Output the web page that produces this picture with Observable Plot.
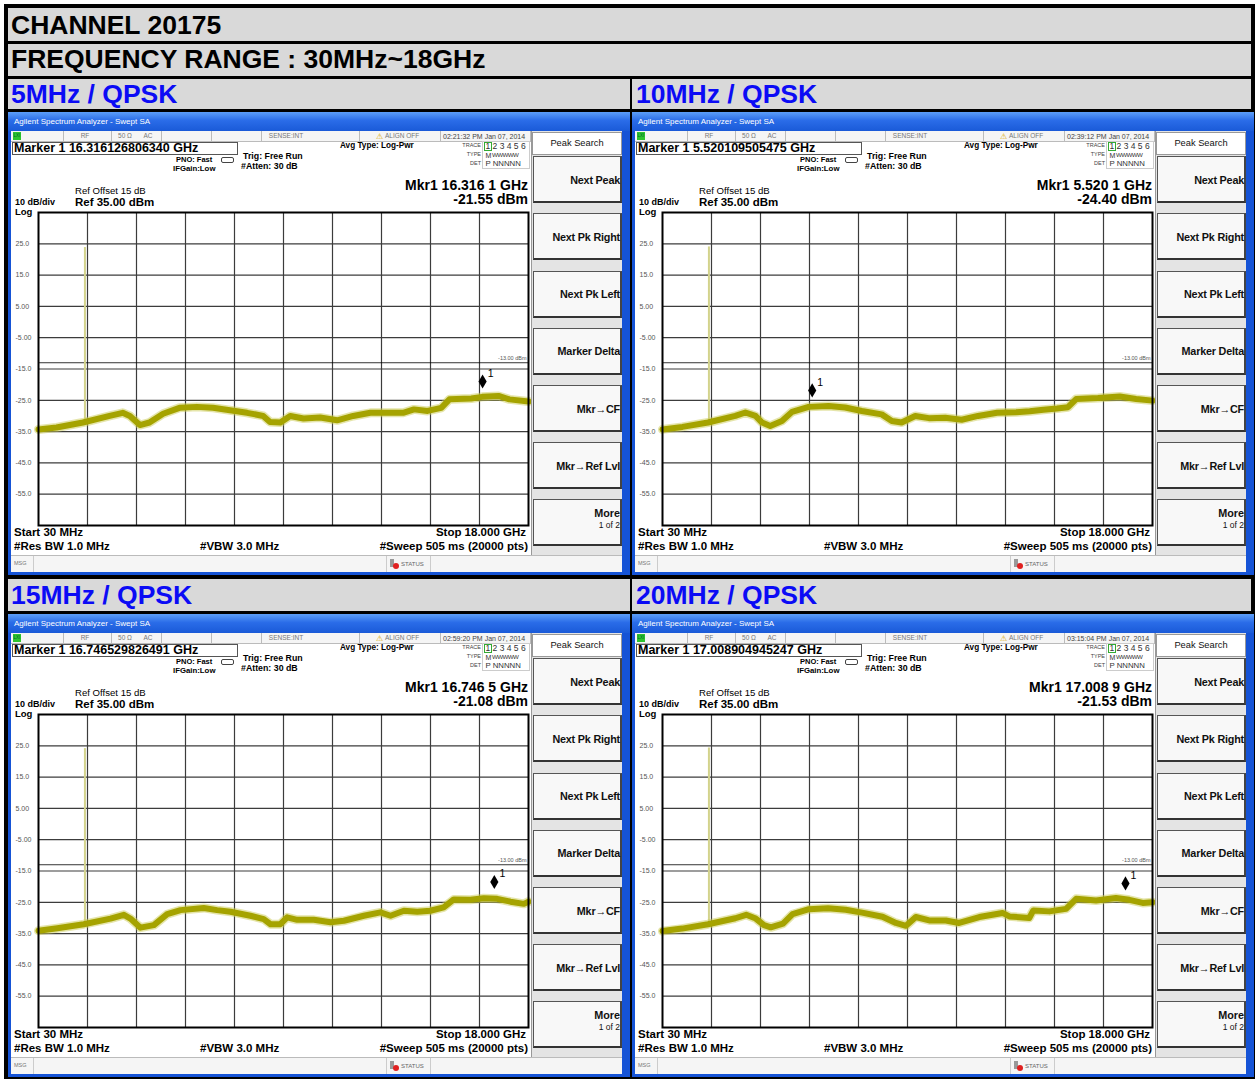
<!DOCTYPE html>
<html><head><meta charset="utf-8">
<script src="https://cdn.jsdelivr.net/npm/d3@7"></script>
<script src="https://cdn.jsdelivr.net/npm/@observablehq/plot@0.6"></script>
<style>
body{margin:0;background:#fff;font-family:"Liberation Sans",Arial,Helvetica,sans-serif;}
#root{position:relative;width:1255px;height:1079px;overflow:hidden;background:#fff;}
.a{position:absolute;white-space:nowrap;line-height:1;box-sizing:border-box;}
</style></head><body><div id="root"></div>
<script>
// ---------- data ----------
const channelTitle = "CHANNEL 20175";
const rangeTitle = "FREQUENCY RANGE : 30MHz~18GHz";
const panelTitles = ["5MHz / QPSK", "10MHz / QPSK", "15MHz / QPSK", "20MHz / QPSK"];
const timestamps = ["02:21:32 PM Jan 07, 2014", "02:39:12 PM Jan 07, 2014", "02:59:20 PM Jan 07, 2014", "03:15:04 PM Jan 07, 2014"];
const markerReadouts = ["Marker 1 16.316126806340 GHz", "Marker 1 5.520109505475 GHz", "Marker 1 16.746529826491 GHz", "Marker 1 17.008904945247 GHz"];
const mkrFreqLabels = ["Mkr1 16.316 1 GHz", "Mkr1 5.520 1 GHz", "Mkr1 16.746 5 GHz", "Mkr1 17.008 9 GHz"];
const mkrLevelLabels = ["-21.55 dBm", "-24.40 dBm", "-21.08 dBm", "-21.53 dBm"];
const markerFreqs = [16.316126806340, 5.520109505475, 16.746529826491, 17.008904945247];
const markerLevels = [-21.55, -24.40, -21.08, -21.53];
const carrierFreq = 1.7325;
const carrierTops = [23.8, 24.0, 24.1, 24.3];
const carrierBases = [-32.1, -32.1, -32.0, -32.0];
const startGHz = 0.03, stopGHz = 18.0;
const refLevel = 35, bottomLevel = -65;
const displayLine = -13;
const displayLabel = "-13.00 dBm";
const yTickValues = [25, 15, 5, -5, -15, -25, -35, -45, -55];
const yTickLabels = ["25.0", "15.0", "5.00", "-5.00", "-15.0", "-25.0", "-35.0", "-45.0", "-55.0"];
const softkeyLabels = ["Next Peak", "Next Pk Right", "Next Pk Left", "Marker Delta", "Mkr\u2192CF", "Mkr\u2192Ref Lvl", "More"];

const freq5 = [0.03, 0.69, 1.66, 2.64, 3.12, 3.38, 3.75, 4.10, 4.60, 5.20, 5.84, 6.43, 7.05, 7.68, 8.27, 8.52, 8.90, 9.26, 9.75, 10.36, 10.98, 11.57, 12.20, 12.80, 13.40, 13.80, 14.30, 14.80, 15.10, 15.90, 16.30, 16.90, 17.30, 18.00];
const level5 = [-34.3, -33.7, -32.1, -30.0, -29.0, -30.0, -32.9, -32.1, -29.3, -27.4, -27.1, -27.4, -28.2, -29.0, -30.0, -31.9, -32.1, -30.0, -30.8, -30.5, -31.4, -30.0, -29.0, -29.0, -29.0, -27.9, -28.4, -27.4, -24.7, -24.4, -23.9, -23.6, -24.7, -25.4];
const freq10 = [0.03, 0.76, 1.70, 2.70, 3.07, 3.44, 3.68, 3.98, 4.41, 4.78, 5.39, 6.12, 6.73, 7.34, 8.07, 8.44, 8.80, 9.30, 9.80, 10.40, 11.00, 11.60, 12.30, 13.00, 13.50, 14.00, 14.50, 14.90, 15.20, 16.00, 16.80, 17.40, 18.00];
const level10 = [-34.3, -33.5, -32.1, -30.0, -28.9, -30.0, -32.1, -33.2, -31.6, -28.7, -27.1, -26.8, -27.3, -28.4, -29.5, -31.6, -32.1, -30.0, -30.7, -30.6, -31.2, -30.0, -29.0, -28.8, -28.5, -28.0, -27.6, -27.2, -24.6, -24.3, -23.8, -24.6, -25.1];
const freq15 = [0.03, 0.72, 1.69, 2.67, 3.16, 3.40, 3.77, 4.26, 4.75, 5.24, 6.09, 6.58, 7.07, 7.80, 8.29, 8.54, 8.90, 9.15, 9.52, 10.13, 10.74, 11.23, 11.96, 12.57, 12.94, 13.43, 13.92, 14.40, 14.89, 15.26, 15.87, 16.36, 16.85, 17.34, 17.83, 18.00];
const level15 = [-34.1, -33.3, -32.0, -30.2, -29.0, -30.2, -33.1, -32.3, -28.8, -27.5, -26.8, -27.5, -28.0, -29.3, -30.4, -32.0, -32.0, -29.8, -30.6, -30.6, -31.4, -30.9, -29.3, -28.2, -29.3, -27.7, -28.0, -27.7, -26.6, -24.1, -24.2, -23.7, -23.9, -24.8, -25.5, -24.8];
const freq20 = [0.03, 0.75, 1.70, 2.70, 3.10, 3.45, 3.75, 4.00, 4.45, 4.80, 5.40, 6.10, 6.75, 7.35, 8.10, 8.59, 8.96, 9.32, 9.81, 10.42, 10.91, 11.65, 12.50, 12.75, 13.48, 13.63, 14.22, 14.83, 15.20, 15.93, 16.66, 17.15, 17.64, 18.00];
const level20 = [-34.2, -33.4, -32.0, -30.1, -29.0, -30.2, -32.3, -33.0, -31.8, -28.8, -27.2, -26.9, -27.4, -28.3, -29.6, -31.6, -32.5, -29.7, -30.8, -30.8, -31.6, -29.7, -28.4, -29.5, -30.0, -27.6, -27.9, -27.1, -23.9, -24.4, -23.6, -24.2, -25.2, -25.0];
const traceFreqs = [freq5, freq10, freq15, freq20];
const traceLevels = [level5, level10, level15, level20];

// ---------- layout helpers ----------
const FONT = '"Liberation Sans", Arial, Helvetica, sans-serif';
const root = document.getElementById("root");
function el(parent, css, text) {
  const d = document.createElement("div");
  d.className = "a";
  for (const k in css) d.style[k] = typeof css[k] === "number" ? css[k] + "px" : css[k];
  if (text != null) d.textContent = text;
  parent.appendChild(d);
  return d;
}
function T(parent, s, x, cy, size, o = {}) {
  const css = {top: cy - 0.5 * size, fontSize: size, fontWeight: o.bold ? "bold" : (o.weight || "normal"), color: o.color || "#000"};
  if (o.ls != null) css.letterSpacing = o.ls + "px";
  if (o.align === "right") { css.left = x - 600; css.width = 600; css.textAlign = "right"; }
  else if (o.align === "center") { css.left = x - 300; css.width = 600; css.textAlign = "center"; }
  else css.left = x;
  return el(parent, css, s);
}

// ---------- table ----------
el(root, {left: 4, top: 4, width: 1251, height: 1075, background: "#000"});
function cell(x, y, w, h) { return el(root, {left: x, top: y, width: w, height: h, background: "#d9d9d9"}); }
cell(8, 8, 1243, 33); T(root, channelTitle, 11, 25, 26.5, {bold: true});
cell(8, 44, 1243, 32); T(root, rangeTitle, 11, 59.5, 26.5, {bold: true});
cell(8, 79, 622, 30); cell(632, 79, 619, 30);
cell(8, 579, 622, 32); cell(632, 579, 619, 32);
const titlePos = [[11, 94.5], [636, 94.5], [11, 595.5], [636, 595.5]];
panelTitles.forEach((t, i) => T(root, t, titlePos[i][0], titlePos[i][1], 26.5, {bold: true, color: "#0b0bf5"}));

// ---------- plot ----------
function drawPlot(i) {
  const trace = traceFreqs[i].map((f, k) => ({f, L: traceLevels[i][k]}));
  const xGrid = d3.range(1, 10).map(k => startGHz + k * (stopGHz - startGHz) / 10);
  const mk = [{f: markerFreqs[i], L: markerLevels[i]}];
  const spike = [{f: carrierFreq, lo: carrierBases[i], hi: carrierTops[i]}];
  return Plot.plot({
    width: 518, height: 317,
    marginLeft: 26, marginRight: 2, marginTop: 2, marginBottom: 2,
    style: {background: "transparent", fontFamily: FONT, overflow: "visible"},
    x: {domain: [startGHz, stopGHz], axis: null},
    y: {domain: [bottomLevel, refLevel], axis: null},
    marks: [
      Plot.ruleY(yTickValues, {stroke: "#3c3c3c", strokeWidth: 1.2}),
      Plot.ruleX(xGrid, {stroke: "#3c3c3c", strokeWidth: 1.2}),
      Plot.ruleY([displayLine], {stroke: "#000", strokeWidth: 0.8}),
      Plot.text([displayLine], {y: d => d, text: () => displayLabel, frameAnchor: "right", textAnchor: "end", dx: -2, dy: -4.5, fontSize: 5.5, fill: "#555"}),
      Plot.ruleX(spike, {x: "f", y1: "lo", y2: "hi", stroke: "#d3d38c", strokeWidth: 2}),
      Plot.line(trace, {x: "f", y: "L", stroke: "#cccc55", strokeWidth: 9, strokeOpacity: 0.5}),
      Plot.line(trace, {x: "f", y: "L", stroke: "#a5a300", strokeWidth: 6}),
      Plot.frame({stroke: "#000", strokeWidth: 2}),
      Plot.text(yTickValues, {y: d => d, text: (d, k) => yTickLabels[k], frameAnchor: "left", textAnchor: "start", dx: -23, fontSize: 7, fill: "#555"}),
      Plot.dot(mk, {x: "f", y: "L", symbol: "diamond", r: 4.3, fill: "#000", stroke: "none", dy: -8}),
      Plot.text(mk, {x: "f", y: "L", text: () => "1", dx: 8, dy: -16, fontSize: 10.5, fill: "#000"})
    ]
  });
}

// ---------- analyzer panel ----------
function panel(i, ox, oy) {
  const p = el(root, {left: ox, top: oy, width: 622, height: 463, background: "#1553d6", overflow: "hidden"});
  el(p, {left: 0, top: 0, width: 622, height: 19, background: "linear-gradient(#5c9ef8,#2a6ce8 45%,#1a5ad8)"});
  T(p, "Agilent Spectrum Analyzer - Swept SA", 6, 10, 8, {color: "#fff"});
  el(p, {left: 3, top: 19, width: 611, height: 441, background: "#fff"});
  // status row
  el(p, {left: 3, top: 19, width: 520, height: 11, background: "#f5f5f5", borderBottom: "1px solid #bbb"});
  [55, 103, 153, 203, 253, 351, 432, 522].forEach(x => el(p, {left: x, top: 19, width: 1, height: 11, background: "#bbb"}));
  el(p, {left: 5, top: 20, width: 8, height: 8, background: "#2ec42e"});
  T(p, "LXI", 5.5, 24.5, 4.5, {color: "#063"});
  T(p, "RF", 77, 24.5, 6.5, {color: "#777", align: "center"});
  T(p, "50 \u03a9", 117, 24.5, 6.5, {color: "#777", align: "center"});
  T(p, "AC", 140, 24.5, 6.5, {color: "#777", align: "center"});
  T(p, "SENSE:INT", 278, 24.5, 6.5, {color: "#777", align: "center"});
  T(p, "\u26a0", 368, 24.5, 8, {color: "#d9a800"});
  T(p, "ALIGN OFF", 377, 24.5, 6.5, {color: "#777"});
  T(p, timestamps[i], 435, 24.5, 7, {color: "#444"});
  // marker readout
  el(p, {left: 4, top: 30, width: 226, height: 13, border: "1px solid #555", background: "#fff"});
  T(p, markerReadouts[i], 6, 36.5, 12.5, {bold: true});
  T(p, "PNO: Fast", 168, 48, 7.5, {bold: true});
  el(p, {left: 213, top: 45, width: 13, height: 6, border: "1px solid #444", borderRadius: "2px", background: "#fff"});
  T(p, "IFGain:Low", 165, 57, 7.8, {bold: true});
  T(p, "Trig: Free Run", 235, 44.5, 8.8, {bold: true});
  T(p, "#Atten: 30 dB", 233, 54.5, 8.8, {bold: true});
  T(p, "Avg Type: Log-Pwr", 332, 34, 8.2, {bold: true});
  // trace box
  el(p, {left: 474, top: 29, width: 48, height: 28, border: "1px solid #ccc", background: "#fff"});
  el(p, {left: 476, top: 30, width: 8, height: 9, border: "1px solid #3a3"});
  T(p, "TRACE", 473, 34, 5.5, {color: "#444", align: "right"});
  T(p, "TYPE", 473, 43, 5.5, {color: "#444", align: "right"});
  T(p, "DET", 473, 52, 5.5, {color: "#444", align: "right"});
  T(p, "1 2 3 4 5 6", 477.5, 34.5, 8.5, {color: "#333"});
  T(p, "M", 477.5, 43, 7, {color: "#333"});
  T(p, "WWWWW", 484, 43, 6.2, {color: "#333", ls: -0.6});
  T(p, "P NNNNN", 477.5, 52, 7.8, {color: "#333"});
  // marker big readout
  T(p, mkrFreqLabels[i], 520, 73, 14, {bold: true, align: "right"});
  T(p, mkrLevelLabels[i], 520, 87, 14, {bold: true, align: "right"});
  // ref info
  T(p, "Ref Offset 15 dB", 67, 79, 9.6, {weight: "500"});
  T(p, "10 dB/div", 7, 90, 9, {bold: true});
  T(p, "Ref 35.00 dBm", 67, 90.5, 11.5, {bold: true});
  T(p, "Log", 7, 99.8, 9.5, {bold: true});
  // plot
  const holder = el(p, {left: 4, top: 98, width: 518, height: 317});
  holder.appendChild(drawPlot(i));
  // bottom annotations
  T(p, "Start 30 MHz", 6, 420.5, 11.5, {bold: true});
  T(p, "Stop 18.000 GHz", 518, 420.5, 11.5, {bold: true, align: "right"});
  T(p, "#Res BW 1.0 MHz", 6, 434.5, 11.5, {bold: true});
  T(p, "#VBW 3.0 MHz", 192, 434.5, 11.5, {bold: true});
  T(p, "#Sweep  505 ms (20000 pts)", 520, 434.5, 11.5, {bold: true, align: "right"});
  // softkeys
  el(p, {left: 523, top: 19, width: 91, height: 424, background: "#e4e4e4", borderLeft: "1px solid #999"});
  el(p, {left: 524, top: 20, width: 90, height: 23, background: "#fff", border: "1px solid #999"});
  T(p, "Peak Search", 569, 31.5, 9.3, {align: "center", color: "#111"});
  softkeyLabels.forEach((s, k) => {
    const top = 44.3 + k * 57.17;
    el(p, {left: 525, top: top, width: 89, height: 47, background: "#f8f8f8", border: "1px solid #555", borderBottom: "2px solid #333", borderRight: "2px solid #444"});
    if (k === 6) {
      T(p, s, 612, top + 14.5, 10.8, {bold: true, align: "right", color: "#111"});
      T(p, "1 of 2", 612, top + 25.5, 8.5, {align: "right", color: "#111"});
    } else {
      T(p, s, 612, top + 24, 10.8, {bold: true, align: "right", color: "#111", ls: -0.2});
    }
  });
  // message bar
  el(p, {left: 3, top: 443, width: 611, height: 17, background: "#f5f5f5", borderTop: "1px solid #bbb"});
  [25, 378, 422].forEach(x => el(p, {left: x, top: 444, width: 1, height: 16, background: "#ccc"}));
  T(p, "MSG", 6, 452, 5.5, {color: "#777"});
  el(p, {left: 382, top: 447, width: 4, height: 8, background: "#999"});
  el(p, {left: 385, top: 451, width: 6, height: 6, background: "#e02020", borderRadius: "50%"});
  T(p, "STATUS", 393, 452, 6, {color: "#666"});
}
const origins = [[8, 112], [632, 112], [8, 614], [632, 614]];
origins.forEach((o, i) => panel(i, o[0], o[1]));
</script></body></html>
